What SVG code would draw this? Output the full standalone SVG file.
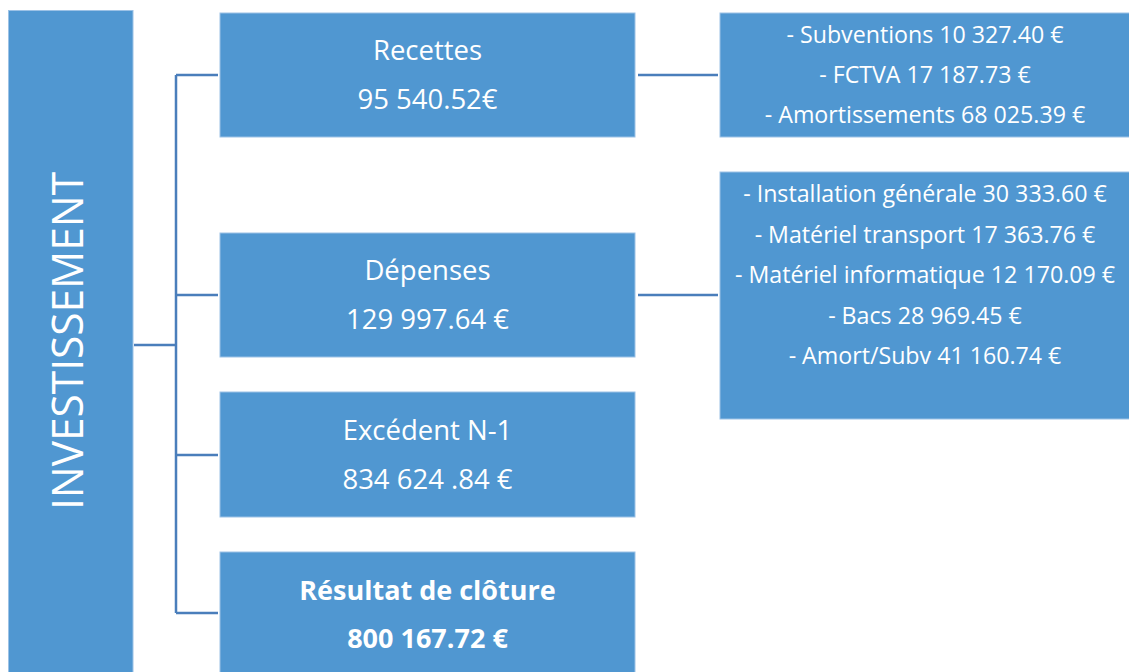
<svg xmlns="http://www.w3.org/2000/svg" width="1129" height="672" viewBox="0 0 1129 672">
<style>
.box{fill:#5097d1;stroke:#9cc2e6;stroke-width:1}
.t{font-family:"Open Sans","Liberation Sans",sans-serif;fill:#ffffff;text-anchor:middle}
.m{font-size:27.5px}
.b{font-size:27px;font-weight:bold}
.s{font-size:23.2px}
.big{font-size:43px}
.c{fill:none;stroke:#4a7ebb;stroke-width:2.5}
</style>
<rect width="1129" height="672" fill="#ffffff"/>
<g id="connectors">
<path class="c" d="M134,345 H176 M176,75 V613 M176,75 H218 M176,295 H218 M176,455 H218 M176,613 H218"/>
<path class="c" d="M638,75 H718 M638,295 H718"/>
</g>
<g id="investissement">
<rect class="box" x="8.5" y="10.5" width="124.5" height="670"/>
<text class="t big" transform="translate(83,341) rotate(-90)" textLength="338" lengthAdjust="spacingAndGlyphs">INVESTISSEMENT</text>
</g>
<g id="recettes">
<rect class="box" x="220" y="13" width="415" height="124"/>
<text class="t m" x="427.5" y="60">Recettes</text>
<text class="t m" x="427.5" y="109">95 540.52€</text>
</g>
<g id="depenses">
<rect class="box" x="220" y="233" width="415" height="124"/>
<text class="t m" x="427.5" y="280">Dépenses</text>
<text class="t m" x="427.5" y="329">129 997.64 €</text>
</g>
<g id="excedent">
<rect class="box" x="220" y="392" width="415" height="125"/>
<text class="t m" x="427.5" y="440">Excédent N-1</text>
<text class="t m" x="427.5" y="489">834 624 .84 €</text>
</g>
<g id="resultat">
<rect class="box" x="220" y="552" width="415" height="130"/>
<text class="t b" x="427.5" y="600">Résultat de clôture</text>
<text class="t b" x="427.5" y="648">800 167.72 €</text>
</g>
<g id="recettes-detail">
<rect class="box" x="720" y="13" width="420" height="124"/>
<text class="t s" x="925" y="43">- Subventions 10 327.40 €</text>
<text class="t s" x="925" y="83">- FCTVA 17 187.73 €</text>
<text class="t s" x="925" y="123">- Amortissements 68 025.39 €</text>
</g>
<g id="depenses-detail">
<rect class="box" x="720" y="172" width="420" height="247"/>
<text class="t s" x="925" y="202">- Installation générale 30 333.60 €</text>
<text class="t s" x="925" y="243">- Matériel transport 17 363.76 €</text>
<text class="t s" x="925" y="283">- Matériel informatique 12 170.09 €</text>
<text class="t s" x="925" y="324">- Bacs 28 969.45 €</text>
<text class="t s" x="925" y="364">- Amort/Subv 41 160.74 €</text>
</g>
</svg>
